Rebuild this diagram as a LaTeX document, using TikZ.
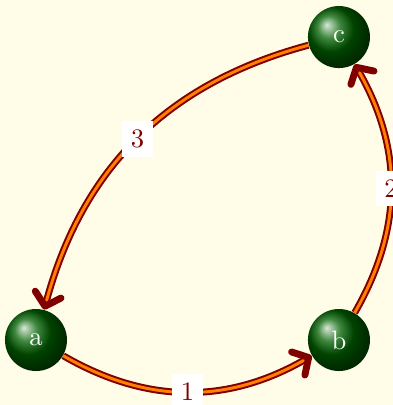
\documentclass[tikz,border=0pt]{standalone}
\usetikzlibrary{arrows.meta,shadings}
\definecolor{bgcream}{RGB}{255,252,232}
\begin{document}
\begin{tikzpicture}[
  ballnode/.style={circle, shading=ball, ball color=green!38!black, text=white, minimum size=23.3pt, inner sep=0pt},
  linkedge/.style={draw=red!50!black, double=orange, double distance=1.1pt, line width=0.75pt,
    -{Straight Barb[round, length=4.5pt, width=10pt, line width=2.6pt]}},
  edgelabel/.style={fill=white, text=red!50!black, midway}
]
\fill[bgcream] (-0.475,-0.858) rectangle (4.713,4.489);
\useasboundingbox (-0.475,-0.858) rectangle (4.713,4.489);
\clip (-0.475,-0.858) rectangle (4.713,4.489);
\node[ballnode] (a) at (0,0) {a};
\node[ballnode] (b) at (4,0) {b};
\node[ballnode] (c) at (4,4) {c};
\draw[linkedge] (a) to[bend right=30] node[edgelabel] {1} (b);
\draw[linkedge] (b) to[bend right=30] node[edgelabel] {2} (c);
\draw[linkedge] (c) to[bend right=30] node[edgelabel] {3} (a);
\end{tikzpicture}
\end{document}
